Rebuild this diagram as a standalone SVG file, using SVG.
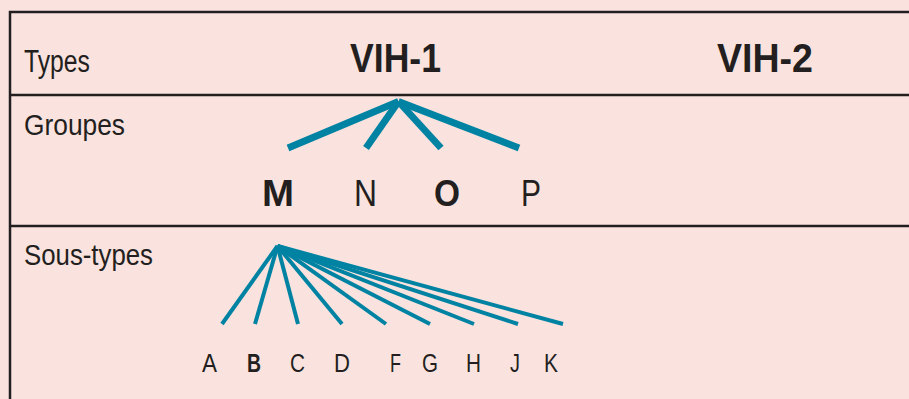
<svg xmlns="http://www.w3.org/2000/svg" width="909" height="399" viewBox="0 0 909 399">
<style>
.t{font-family:"Liberation Sans",Arial,sans-serif;fill:#231F20}
.b{font-weight:bold}
.rule{stroke:#231F20;stroke-width:2.5;fill:none}
.g{stroke:#0083A3;stroke-width:7;stroke-linecap:butt}
.s{stroke:#0083A3;stroke-width:4;stroke-linecap:butt}
</style>
<rect x="0" y="0" width="909" height="399" fill="#FAE3DF"/>
<g id="table">
<path class="rule" d="M10,399 V12 H909"/>
<line class="rule" x1="10" y1="95" x2="909" y2="95"/>
<line class="rule" x1="10" y1="226" x2="909" y2="226"/>
</g>
<g id="row-labels">
<text class="t" x="24" y="71.5" font-size="31" textLength="66" lengthAdjust="spacingAndGlyphs">Types</text>
<text class="t" x="24" y="135" font-size="29" textLength="101" lengthAdjust="spacingAndGlyphs">Groupes</text>
<text class="t" x="24" y="265" font-size="29" textLength="129" lengthAdjust="spacingAndGlyphs">Sous-types</text>
</g>
<g id="vih1"><text class="t b" x="350" y="72" font-size="41" textLength="91" lengthAdjust="spacingAndGlyphs">VIH-1</text></g>
<g id="vih2"><text class="t b" x="717" y="72" font-size="41" textLength="96" lengthAdjust="spacingAndGlyphs">VIH-2</text></g>
<g id="groupes">
<text class="t b" x="262" y="206" font-size="37" textLength="32" lengthAdjust="spacingAndGlyphs">M</text>
<text class="t" x="354" y="206" font-size="37" textLength="23" lengthAdjust="spacingAndGlyphs">N</text>
<text class="t b" x="434" y="206" font-size="37" textLength="26" lengthAdjust="spacingAndGlyphs">O</text>
<text class="t" x="521" y="206" font-size="37" textLength="20" lengthAdjust="spacingAndGlyphs">P</text>
</g>
<g id="sous-types">
<text class="t" x="202" y="372" font-size="25" textLength="15" lengthAdjust="spacingAndGlyphs">A</text>
<text class="t b" x="247" y="372" font-size="25" textLength="14" lengthAdjust="spacingAndGlyphs">B</text>
<text class="t" x="290" y="372" font-size="25" textLength="15" lengthAdjust="spacingAndGlyphs">C</text>
<text class="t" x="334" y="372" font-size="25" textLength="16" lengthAdjust="spacingAndGlyphs">D</text>
<text class="t" x="390" y="372" font-size="25" textLength="11" lengthAdjust="spacingAndGlyphs">F</text>
<text class="t" x="422" y="372" font-size="25" textLength="16" lengthAdjust="spacingAndGlyphs">G</text>
<text class="t" x="466" y="372" font-size="25" textLength="15" lengthAdjust="spacingAndGlyphs">H</text>
<text class="t" x="510" y="372" font-size="25" textLength="10" lengthAdjust="spacingAndGlyphs">J</text>
<text class="t" x="544" y="372" font-size="25" textLength="14" lengthAdjust="spacingAndGlyphs">K</text>
</g>
<g id="connectors">
<line class="g" x1="398.5" y1="101.5" x2="288" y2="148"/>
<line class="g" x1="398.5" y1="101.5" x2="366" y2="148"/>
<line class="g" x1="398.5" y1="101.5" x2="441" y2="148"/>
<line class="g" x1="398.5" y1="101.5" x2="519" y2="148"/>
<line class="s" x1="277.5" y1="246" x2="222" y2="324"/>
<line class="s" x1="277.5" y1="246" x2="255" y2="324"/>
<line class="s" x1="277.5" y1="246" x2="298" y2="324"/>
<line class="s" x1="277.5" y1="246" x2="342" y2="324"/>
<line class="s" x1="277.5" y1="246" x2="386" y2="324"/>
<line class="s" x1="277.5" y1="246" x2="430" y2="324"/>
<line class="s" x1="277.5" y1="246" x2="474" y2="324"/>
<line class="s" x1="277.5" y1="246" x2="518" y2="324"/>
<line class="s" x1="277.5" y1="246" x2="563" y2="324"/>
</g>
</svg>
